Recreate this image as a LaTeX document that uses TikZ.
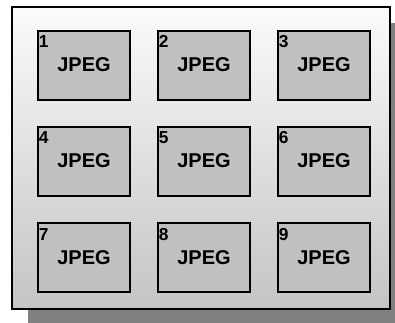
\documentclass[tikz,border=0pt]{standalone}
\usepackage{fontspec}
\setmainfont{Liberation Sans}
\usetikzlibrary{positioning}
\definecolor{tilegray}{HTML}{C0C0C0}
\definecolor{shadowgray}{HTML}{808080}
\definecolor{frametop}{HTML}{FBFBFB}
\definecolor{framebot}{HTML}{C4C4C4}

\begin{document}
\begin{tikzpicture}[
  x=0.75pt,y=-0.75pt,
  tile/.style={rectangle,draw,line width=1.5pt,fill=tilegray,
    minimum width=69pt,minimum height=51.75pt,inner sep=0pt,
    font=\bfseries\fontsize{15}{18}\selectfont},
  num/.style={inner sep=0pt,font=\bfseries\fontsize{13}{15}\selectfont},
  frame/.style={draw,line width=1.5pt,top color=frametop,bottom color=framebot}
]
\useasboundingbox (0,0) rectangle (395,322);
% shadow and panel
\fill[shadowgray] (28,23) rectangle (406,326);
\shadedraw[frame] (12,7) rectangle (390,309);
% the nine tiles
\foreach \n/\cx/\cy in {1/84/65,2/204/65,3/324/65,
                        4/84/161,5/204/161,6/324/161,
                        7/84/257.5,8/204/257.5,9/324/257.5} {
  \node[tile] (jpeg\n) at (\cx,\cy) {JPEG};
  \node[num,below right=4.5pt and 1.2pt of jpeg\n.north west] (n\n) {\n};
}
\end{tikzpicture}
\end{document}
